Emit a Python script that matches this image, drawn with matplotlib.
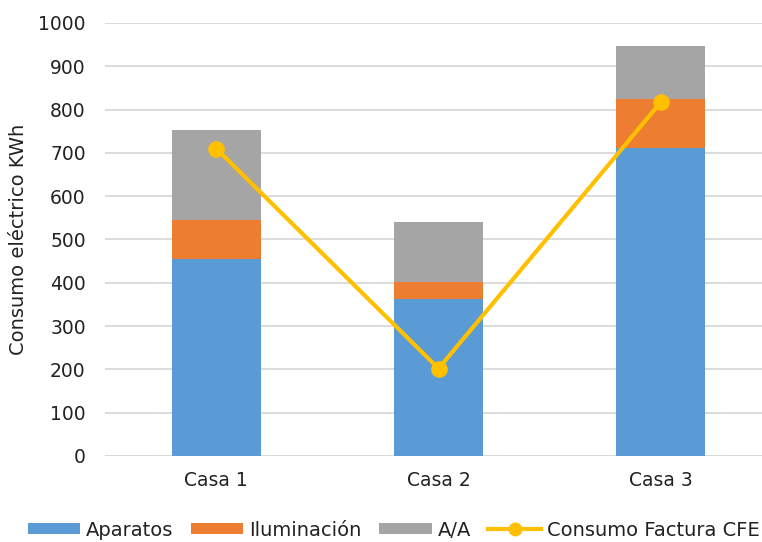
import matplotlib.pyplot as plt
import numpy as np

casas = ["Casa 1", "Casa 2", "Casa 3"]
aparatos = [455, 362, 712]
iluminacion = [90, 40, 113]
aire = [208, 138, 122]
factura_cfe = [710, 202, 817]

plt.rcParams["font.family"] = "DejaVu Sans"

fig = plt.figure(figsize=(7.62, 5.42), dpi=100)
ax = fig.add_axes([0.138, 0.1587, 0.875, 0.799])

x = np.arange(len(casas))
ancho = 0.4
base2 = np.array(aparatos)
base3 = base2 + np.array(iluminacion)

b1 = ax.bar(x, aparatos, ancho, color="#5B9BD5", label="Aparatos", zorder=2)
b2 = ax.bar(x, iluminacion, ancho, bottom=base2, color="#ED7D31", label="Iluminación", zorder=2)
b3 = ax.bar(x, aire, ancho, bottom=base3, color="#A5A5A5", label="A/A", zorder=2)
ln, = ax.plot(x, factura_cfe, color="#FFC000", lw=3, marker="o", ms=11,
              label="Consumo Factura CFE", zorder=3)

ax.set_xlim(-0.5, 2.5)
ax.set_ylim(0, 1000)
ax.set_yticks(range(0, 1001, 100))
ax.set_xticks(x)
ax.set_xticklabels(casas)
ax.tick_params(axis="both", length=0, labelsize=13.5, colors="#222222")
ax.tick_params(axis="y", pad=14)
ax.tick_params(axis="x", pad=11)
ax.grid(axis="y", color="#D9D9D9", lw=1.3, zorder=0)
for s in ax.spines.values():
    s.set_visible(False)
ax.axhline(0, color="#D9D9D9", lw=1.3, zorder=1)

fig.text(0.024, 0.5587, "Consumo eléctrico KWh", rotation=90,
         ha="center", va="center", fontsize=14, color="#222222")

leg = fig.legend([b1, b2, b3, ln], ["Aparatos", "Iluminación", "A/A", "Consumo Factura CFE"],
                 loc="center left", bbox_to_anchor=(18 / 762, 1 - 530 / 542), ncol=4,
                 frameon=False, fontsize=14, handlelength=2.7, handleheight=0.5,
                 handletextpad=0.3, columnspacing=0.9, borderpad=0,
                 labelcolor="#222222")
leg.legend_handles[3].set_markersize(9)

fig.savefig("out.png", dpi=100)
